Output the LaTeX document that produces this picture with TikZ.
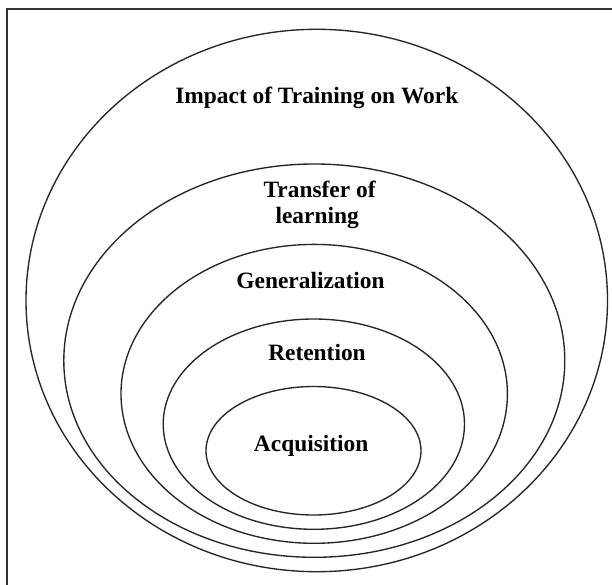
\documentclass[tikz,border=0pt]{standalone}
\usepackage{fontspec}
\setmainfont{Liberation Serif}
\begin{document}
\begin{tikzpicture}[x=1pt,y=-1pt,
  ring/.style={draw=black!85, line width=1.35pt},
  frameline/.style={draw=black!80, line width=1.3pt},
  lbl/.style={font=\bfseries\fontsize{23.4}{25}\selectfont, inner sep=0pt, anchor=base, text=black}]
\useasboundingbox (0,0) rectangle (612,585);
\clip (0,0) rectangle (612,585);
\fill[white] (0,0) rectangle (612,585);
\draw[frameline] (7,9) rectangle (630,600);
% nested ellipses
\draw[ring] (316.75,300.5) ellipse [x radius=290.75pt, y radius=271.2pt];
\draw[ring] (314.3,360.65) ellipse [x radius=250.5pt, y radius=196.65pt];
\draw[ring] (314.2,393.85) ellipse [x radius=193.2pt, y radius=149.45pt];
\draw[ring] (313.85,424.15) ellipse [x radius=150.65pt, y radius=105.15pt];
\draw[ring] (313.5,450.75) ellipse [x radius=107.5pt, y radius=64.25pt];
% labels
\node[lbl] (impact) at (316.8,103.5) {Impact of Training on Work};
\node[lbl] (transfer) at (319.6,198) {Transfer of};
\node[lbl] (learning) at (317.2,223) {learning};
\node[lbl] (general) at (310.5,288.3) {Generalization};
\node[lbl] (retention) at (317,360) {Retention};
\node[lbl] (acq) at (311.2,451.7) {Acquisition};
\end{tikzpicture}
\end{document}
